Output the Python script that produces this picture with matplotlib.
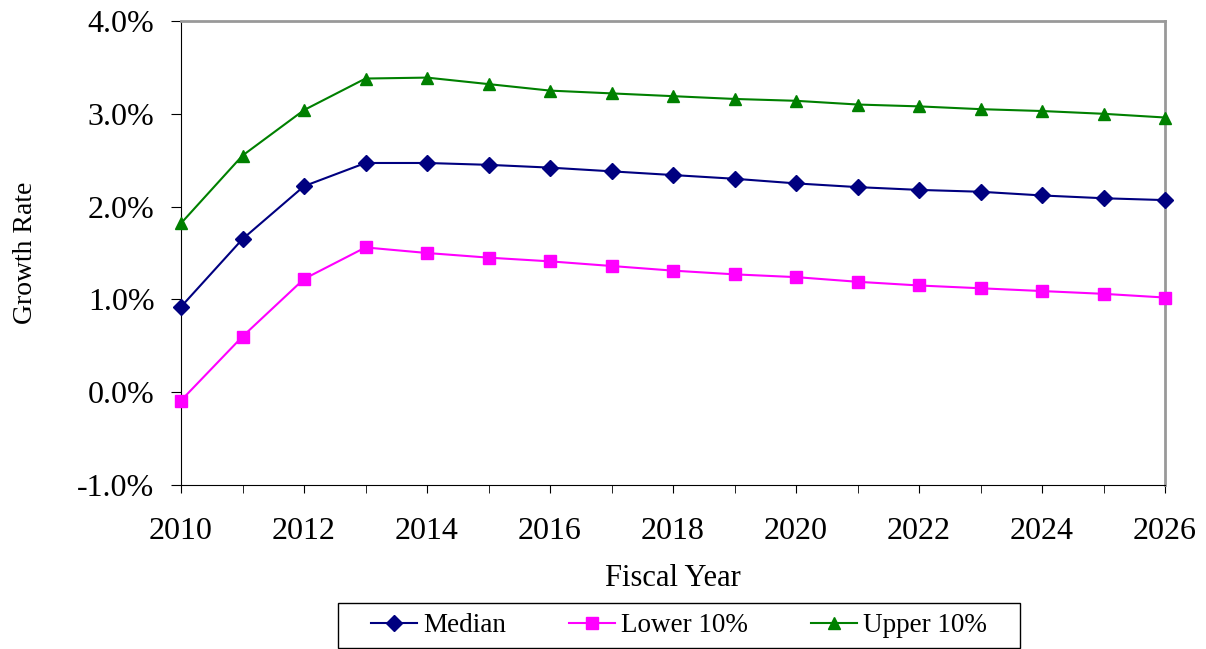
import matplotlib
matplotlib.use("Agg")
import matplotlib.pyplot as plt
from matplotlib.patches import Rectangle
from matplotlib.ticker import MultipleLocator, FuncFormatter

years = list(range(2010, 2027))
median = [0.92, 1.65, 2.22, 2.47, 2.47, 2.45, 2.42, 2.38, 2.34, 2.30, 2.25, 2.21, 2.18, 2.16, 2.12, 2.09, 2.07]
lower = [-0.09, 0.60, 1.22, 1.56, 1.50, 1.45, 1.41, 1.36, 1.31, 1.27, 1.24, 1.19, 1.15, 1.12, 1.09, 1.06, 1.02]
upper = [1.82, 2.55, 3.04, 3.38, 3.39, 3.32, 3.25, 3.22, 3.19, 3.16, 3.14, 3.10, 3.08, 3.05, 3.03, 3.00, 2.96]

plt.rcParams['font.family'] = ['Liberation Serif', 'DejaVu Serif']

W, H = 1206, 649
fig = plt.figure(figsize=(W / 100, H / 100), dpi=100)
ax = fig.add_axes([181 / W, 1 - 485 / H, (1165 - 181) / W, (485 - 21) / H])

ax.plot(years, median, color='#000080', marker='D', markersize=8, linewidth=1.5, label='Median', clip_on=False, zorder=3)
ax.plot(years, lower, color='#FF00FF', marker='s', markersize=9, linewidth=1.5, label='Lower 10%', clip_on=False, zorder=3)
ax.plot(years, upper, color='#008000', marker='^', markersize=9, linewidth=1.5, label='Upper 10%', clip_on=False, zorder=3)

ax.set_xlim(2010, 2026)
ax.set_ylim(-1.0, 4.0)
ax.xaxis.set_major_locator(MultipleLocator(2))
ax.xaxis.set_minor_locator(MultipleLocator(1))
ax.yaxis.set_major_locator(MultipleLocator(1))
ax.yaxis.set_major_formatter(FuncFormatter(lambda v, p: f"{v:.1f}%"))

ax.tick_params(axis='both', which='both', direction='out', labelsize=23, color='black')
ax.tick_params(axis='x', which='both', length=6, pad=17)
ax.tick_params(axis='y', which='major', length=7, pad=12)

ax.spines['top'].set_color('#999999')
ax.spines['right'].set_color('#999999')
ax.spines['top'].set_linewidth(2)
ax.spines['right'].set_linewidth(2)
ax.spines['left'].set_color('black')
ax.spines['bottom'].set_color('black')

ax.set_xlabel("Fiscal Year", fontsize=22, labelpad=13)
ax.set_ylabel("Growth Rate", fontsize=20, labelpad=28)

# legend box
fig.patches.append(Rectangle((338 / W, 1 - 648 / H), (1020 - 338) / W, (648 - 603) / H,
                             transform=fig.transFigure, fill=False, edgecolor='black', linewidth=1.0))
leg = ax.legend(loc='center', bbox_to_anchor=(679 / W, 1 - 626 / H), bbox_transform=fig.transFigure,
                ncol=3, fontsize=19.5, frameon=False,
                handlelength=1.7, handletextpad=0.25, columnspacing=2.3, borderpad=0.3)

fig.savefig("out.png", dpi=100)
